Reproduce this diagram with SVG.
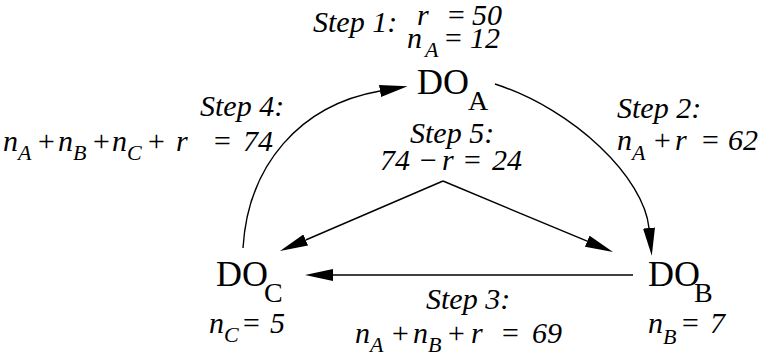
<svg xmlns="http://www.w3.org/2000/svg" width="763" height="358" viewBox="0 0 763 358">
<style>
.lbl{font-family:"Liberation Serif","Times New Roman",serif;font-style:italic;font-size:30px;fill:#000}
.sub{font-size:22px}
.node{font-family:"Liberation Serif","Times New Roman",serif;font-size:36px;fill:#000}
.nsub{font-size:28px}
.edge{fill:none;stroke:#000;stroke-width:1.4}
</style>
<defs>
<marker id="ah" markerUnits="userSpaceOnUse" viewBox="0 0 28 12" markerWidth="28" markerHeight="12" refX="0" refY="6" orient="auto">
<path d="M0,0 L28,6 L0,12 z" fill="#000"/>
</marker>
</defs>
<rect width="763" height="358" fill="#fff"/>
<g id="connectors">
<path class="edge" d="M243,248 C248,165 300,105 380,91" marker-end="url(#ah)"/>
<path class="edge" d="M495,84 C575,110 644,178 649,228" marker-end="url(#ah)"/>
<path class="edge" d="M633,275 L333,275" marker-end="url(#ah)"/>
<path class="edge" d="M443,181 L305.7,240" marker-end="url(#ah)"/>
<path class="edge" d="M443,181 L587.2,241.2" marker-end="url(#ah)"/>
</g>
<g id="DO_A">
<text class="node" x="417" y="94">DO<tspan class="nsub" x="468" y="110">A</tspan></text>
<text class="lbl"><tspan x="407" y="48">n</tspan><tspan class="sub" x="425" y="57">A</tspan><tspan x="443" y="48">=</tspan><tspan x="470" y="48">12</tspan></text>
</g>
<g id="DO_B">
<text class="node" x="648" y="286">DO<tspan class="nsub" x="694" y="302">B</tspan></text>
<text class="lbl"><tspan x="648" y="333">n</tspan><tspan class="sub" x="663" y="344">B</tspan><tspan x="680" y="333">=</tspan><tspan x="710" y="333">7</tspan></text>
</g>
<g id="DO_C">
<text class="node" x="216" y="286">DO<tspan class="nsub" x="264" y="302">C</tspan></text>
<text class="lbl"><tspan x="209" y="333">n</tspan><tspan class="sub" x="224" y="342">C</tspan><tspan x="241" y="333">=</tspan><tspan x="270" y="333">5</tspan></text>
</g>
<g id="labels">
<text class="lbl" x="313" y="32">Step 1:</text>
<text class="lbl"><tspan x="417" y="25">r</tspan><tspan x="446" y="25">=</tspan><tspan x="472" y="25">50</tspan></text>
<text class="lbl" x="200" y="116">Step 4:</text>
<text class="lbl"><tspan x="3" y="151">n</tspan><tspan class="sub" x="18" y="160">A</tspan><tspan x="36" y="151">+</tspan><tspan x="58" y="151">n</tspan><tspan class="sub" x="73" y="160">B</tspan><tspan x="91" y="151">+</tspan><tspan x="112" y="151">n</tspan><tspan class="sub" x="127" y="160">C</tspan><tspan x="146" y="151">+</tspan><tspan x="176" y="151">r</tspan><tspan x="212" y="151">=</tspan><tspan x="243" y="151">74</tspan></text>
<text class="lbl" x="617" y="118">Step 2:</text>
<text class="lbl"><tspan x="617" y="150">n</tspan><tspan class="sub" x="632" y="160">A</tspan><tspan x="652" y="150">+</tspan><tspan x="675" y="150">r</tspan><tspan x="700" y="150">=</tspan><tspan x="728" y="150">62</tspan></text>
<text class="lbl" x="410" y="143">Step 5:</text>
<text class="lbl"><tspan x="380" y="170">74</tspan><tspan x="418" y="170">−</tspan><tspan x="442" y="170">r</tspan><tspan x="462" y="170">=</tspan><tspan x="492" y="170">24</tspan></text>
<text class="lbl" x="426" y="309">Step 3:</text>
<text class="lbl"><tspan x="355" y="343">n</tspan><tspan class="sub" x="370" y="352">A</tspan><tspan x="390" y="343">+</tspan><tspan x="413" y="343">n</tspan><tspan class="sub" x="428" y="352">B</tspan><tspan x="446" y="343">+</tspan><tspan x="471" y="343">r</tspan><tspan x="500" y="343">=</tspan><tspan x="532" y="343">69</tspan></text>
</g>
</svg>
